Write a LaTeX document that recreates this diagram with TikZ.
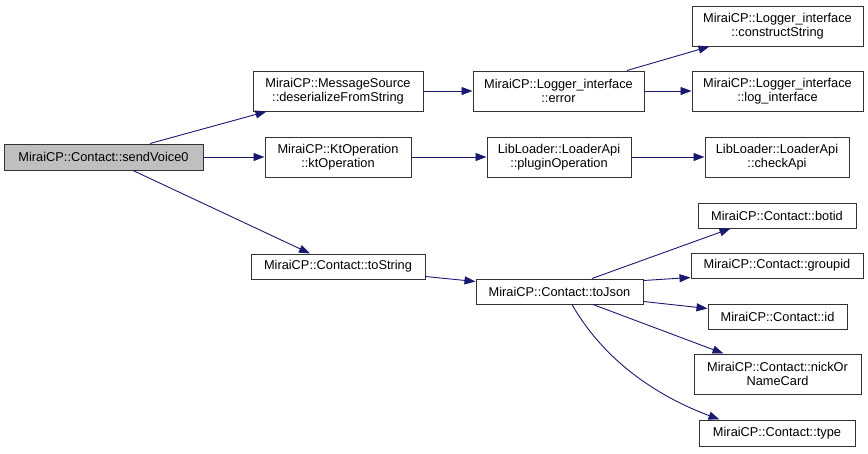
\documentclass[tikz,border=0pt]{standalone}
\usepackage{fontspec}
\setmainfont{Liberation Sans}
\usetikzlibrary{arrows.meta}
\definecolor{cgedge}{RGB}{25, 25, 112}
\definecolor{cgborder}{RGB}{50, 50, 50}
\definecolor{cgself}{RGB}{191, 191, 191}
\tikzset{
  box/.style={draw=cgborder, fill=white, line width=1pt, align=center, inner sep=0pt,
    font=\fontsize{12.8}{14.5}\selectfont, minimum height=25pt},
  tbox/.style={box, minimum height=40pt},
  hbox/.style={box, fill=cgself},
  arr/.style={-{Triangle[length=11pt, width=8pt]}, line width=0.9pt, cgedge}
}

\begin{document}
\begin{tikzpicture}[x=1pt, y=-1pt]
                \useasboundingbox (0,0) rectangle (868,453);
                \node[hbox, minimum width=199pt, minimum height=26pt] (sendvoice) at (103.5,157) {MiraiCP::Contact::sendVoice0};
                \node[tbox, minimum width=170pt] (msgsrc) at (338,91) {MiraiCP::MessageSource\\::deserializeFromString};
                \node[tbox, minimum width=146pt] (ktop) at (338,157) {MiraiCP::KtOperation\\::ktOperation};
                \node[box, minimum width=174pt] (tostr) at (338,266.5) {MiraiCP::Contact::toString};
                \node[tbox, minimum width=171pt] (logerr) at (558.5,91) {MiraiCP::Logger\_interface\\::error};
                \node[tbox, minimum width=144pt] (plugin) at (559,157) {LibLoader::LoaderApi\\::pluginOperation};
                \node[box, minimum width=167pt] (tojson) at (559.5,291.5) {MiraiCP::Contact::toJson};
                \node[tbox, minimum width=171pt] (cstr) at (777.5,26) {MiraiCP::Logger\_interface\\::constructString};
                \node[tbox, minimum width=171pt] (logif) at (777.5,91) {MiraiCP::Logger\_interface\\::log\_interface};
                \node[tbox, minimum width=144pt] (chkapi) at (777,157) {LibLoader::LoaderApi\\::checkApi};
                \node[box, minimum width=158pt] (botid) at (777,215.5) {MiraiCP::Contact::botid};
                \node[box, minimum width=172pt] (grpid) at (777,265.5) {MiraiCP::Contact::groupid};
                \node[box, minimum width=139pt] (cid) at (777.5,316.5) {MiraiCP::Contact::id};
                \node[tbox, minimum width=167pt] (nick) at (777.5,374) {MiraiCP::Contact::nickOr\\NameCard};
                \node[box, minimum width=156pt, minimum height=26pt] (ctype) at (777,433) {MiraiCP::Contact::type};
                % calls from sendVoice0
                \draw[arr] ([xshift=46.5pt]sendvoice.north) -- ([xshift=14pt]msgsrc.south west);
                \draw[arr] (sendvoice.east) -- (ktop.west);
                \draw[arr] ([xshift=29.5pt]sendvoice.south) -- ([xshift=-28pt]tostr.north);
                % second level
                \draw[arr] (msgsrc.east) -- (logerr.west);
                \draw[arr] (ktop.east) -- (plugin.west);
                \draw[arr] ([yshift=3pt]tostr.south east) -- ([yshift=-3pt]tojson.north west);
                % third level
                \draw[arr] ([xshift=68.5pt]logerr.north) -- ([xshift=18pt]cstr.south west);
                \draw[arr] (logerr.east) -- (logif.west);
                \draw[arr] (plugin.east) -- (chkapi.west);
                \draw[arr] ([xshift=32.5pt]tojson.north) -- ([xshift=33pt]botid.south west);
                \draw[arr] ([yshift=-2pt]tojson.north east) -- ([yshift=1pt]grpid.south west);
                \draw[arr] ([yshift=3pt]tojson.south east) -- ([yshift=-5pt]cid.north west);
                \draw[arr] ([xshift=33.5pt]tojson.south) -- ([xshift=30pt]nick.north west);
                \draw[arr] ([xshift=12.5pt]tojson.south) .. controls +(40,70) and +(-40,-15) .. ([xshift=21pt]ctype.north west);
            \end{tikzpicture}
\end{document}
